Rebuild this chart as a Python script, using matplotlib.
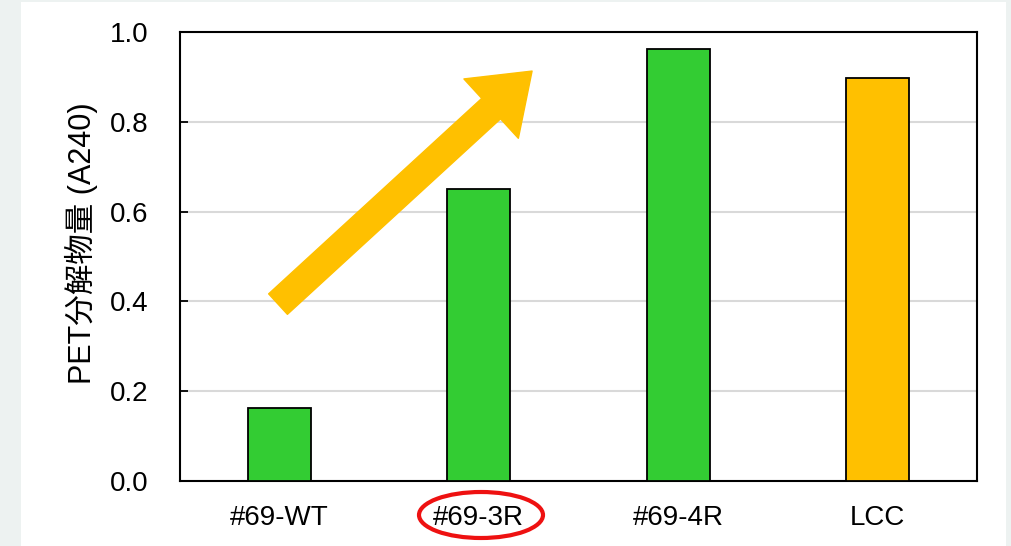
import matplotlib
matplotlib.use("Agg")
import matplotlib.pyplot as plt
from matplotlib.patches import Rectangle, Ellipse, FancyArrowPatch

plt.rcParams['font.family'] = ['Liberation Sans', 'Noto Sans CJK JP', 'DejaVu Sans']

categories = ["#69-WT", "#69-3R", "#69-4R", "LCC"]
values = [0.163, 0.650, 0.962, 0.898]
bar_colors = ["#33cc33", "#33cc33", "#33cc33", "#ffc000"]
yticks = [0.0, 0.2, 0.4, 0.6, 0.8, 1.0]
ylabel = "PET分解物量 (A240)"

W, H, DPI = 1012, 546, 100
fig = plt.figure(figsize=(W / DPI, H / DPI), dpi=DPI)
fig.patch.set_facecolor("#edf2f1")

# white panel behind the chart
fig.patches.append(Rectangle((21 / W, 0), (1006 - 21) / W, (H - 2) / H,
                             transform=fig.transFigure, facecolor="white",
                             edgecolor="none", zorder=-5))

ax = fig.add_axes([180 / W, 1 - 481 / H, (977 - 180) / W, (481 - 32) / H])
ax.set_facecolor("white")

x = list(range(len(categories)))
ax.bar(x, values, width=0.315, color=bar_colors, edgecolor="black",
       linewidth=1.3, zorder=3)

ax.set_xlim(-0.5, len(categories) - 0.5)
ax.set_ylim(0, 1.0)
ax.set_yticks(yticks)
ax.set_yticklabels([f"{t:.1f}" for t in yticks])
ax.set_xticks(x)
ax.set_xticklabels(categories)
ax.grid(axis="y", color="#d9d9d9", linewidth=1.5, zorder=0)
ax.set_axisbelow(True)
ax.tick_params(axis="y", direction="in", length=6, width=1.3, labelsize=20, pad=23)
ax.tick_params(axis="x", length=0, labelsize=20, pad=17)
for s in ax.spines.values():
    s.set_linewidth(1.5)
    s.set_color("black")

ax.set_ylabel(ylabel, fontsize=22, labelpad=8, y=0.53)

# upward trend arrow
arrow = FancyArrowPatch((-0.008, 0.394), (1.267, 0.913),
                        arrowstyle="simple,head_length=40,head_width=58,tail_width=20",
                        mutation_scale=1, shrinkA=0, shrinkB=0,
                        color="#ffc000", zorder=4)
ax.add_patch(arrow)

# highlight around the second category label
fig.patches.append(Ellipse((481 / W, 1 - 515 / H), 124 / W, 46 / H,
                           transform=fig.transFigure, facecolor="none",
                           edgecolor="#ee1111", linewidth=3, zorder=5))

fig.savefig("out.png", dpi=DPI, facecolor=fig.get_facecolor())
